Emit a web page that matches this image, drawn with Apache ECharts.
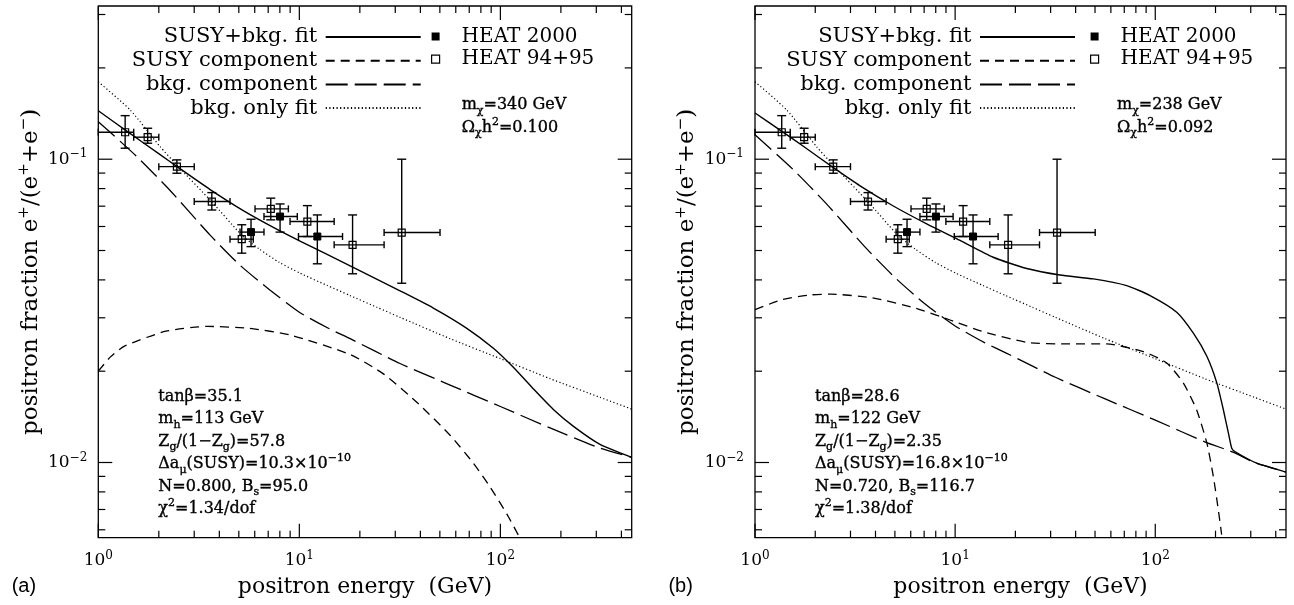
<!DOCTYPE html>
<html>
<head>
<meta charset="utf-8">
<script src="https://cdn.jsdelivr.net/npm/echarts@6/dist/echarts.min.js"></script>
<style>html,body{margin:0;padding:0;background:#fff}#c{width:1294px;height:605px}</style>
</head>
<body>
<div id="c"></div>
<script>
// ---------- tick values ----------
const energyTickMajor = [1, 10, 100];
const energyTickMinor = [2, 3, 4, 5, 6, 7, 8, 9, 20, 30, 40, 50, 60, 70, 80, 90, 200, 300, 400];
const fractionTickMajor = [0.01, 0.1];
const fractionTickMinor = [0.006, 0.007, 0.008, 0.009, 0.02, 0.03, 0.04, 0.05, 0.06, 0.07, 0.08, 0.09, 0.2, 0.3];

// ---------- HEAT data ----------
const heat9495Energy     = [1.36, 1.76, 2.46, 3.67, 5.17, 7.21, 10.96, 18.4, 32.3];
const heat9495EnergyLow  = [1.0, 1.5, 2.0, 3.0, 4.52, 6.02, 8.99, 14.9, 26.4];
const heat9495EnergyHigh = [1.5, 2.0, 3.0, 4.52, 5.9, 8.82, 14.9, 26.4, 50.1];
const heat9495Fraction   = [0.1227, 0.1182, 0.0945, 0.0725, 0.0545, 0.0686, 0.0623, 0.0522, 0.0573];
const heat9495FracLow    = [0.1087, 0.1129, 0.0899, 0.068, 0.049, 0.0631, 0.0556, 0.0419, 0.039];
const heat9495FracHigh   = [0.1392, 0.1265, 0.0995, 0.0776, 0.0608, 0.0744, 0.0703, 0.0655, 0.1];

const heat2000Energy     = [5.75, 8.02, 12.29];
const heat2000EnergyLow  = [5.07, 6.67, 9.9];
const heat2000EnergyHigh = [6.67, 9.77, 16.4];
const heat2000Fraction   = [0.0575, 0.0647, 0.0556];
const heat2000FracLow    = [0.0515, 0.0575, 0.0452];
const heat2000FracHigh   = [0.0634, 0.0712, 0.0655];

// ---------- curves, panel (a) ----------
const fitA_E = [1, 1.38, 2.03, 2.455, 3.6, 5.26, 7.71, 10.08, 17.9, 31.7, 46.4, 68.1, 92.3, 116, 146, 183.5, 231, 313, 450];
const fitA_F = [0.1445, 0.124, 0.1035, 0.0947, 0.0794, 0.0677, 0.0588, 0.0537, 0.0445, 0.0368, 0.0323, 0.0277, 0.0238, 0.0206, 0.01748, 0.01495, 0.01315, 0.01147, 0.0104];
const susyA_E = [1, 1.15, 1.35, 2.17, 3.5, 5.62, 9.05, 17.9, 26.2, 38.4, 56.2, 73.5, 88.9, 107.6, 124.5];
const susyA_F = [0.020, 0.0223, 0.0242, 0.0271, 0.0281, 0.0277, 0.0263, 0.0227, 0.0196, 0.0158, 0.0123, 0.00994, 0.0083, 0.00677, 0.00567];
const bkgA_E = [1, 1.55, 2.27, 3.6, 5.07, 7.08, 10, 14.1, 17.9, 31.7, 56.2, 100, 176.6, 313, 450];
const bkgA_F = [0.133, 0.1022, 0.079, 0.0562, 0.0447, 0.0372, 0.0313, 0.0276, 0.0256, 0.0212, 0.0180, 0.0153, 0.0130, 0.01115, 0.0104];

// ---------- background-only fit (both panels) ----------
const bkgOnlyE = [1, 1.44, 2.03, 2.455, 3.66, 5.17, 6.31, 7.94, 10.08, 13.7, 17.9, 24.3, 31.7, 56.2, 100, 176.6, 313, 450];
const bkgOnlyF = [0.180, 0.1454, 0.110, 0.0957, 0.0725, 0.0562, 0.0506, 0.0457, 0.0421, 0.0384, 0.0355, 0.0325, 0.0301, 0.0256, 0.0220, 0.0189, 0.0164, 0.0150];

// ---------- curves, panel (b) ----------
const fitB_E = [1, 1.334, 1.744, 2.464, 3.35, 4.91, 7.21, 10.58, 15.5, 22.8, 33.4, 49.1, 72, 94.2, 128, 155, 181, 203, 219, 232, 241, 251, 321, 450];
const fitB_F = [0.142, 0.1247, 0.1103, 0.0938, 0.0817, 0.0701, 0.0612, 0.054, 0.0475, 0.0436, 0.0415, 0.0403, 0.0383, 0.0355, 0.0313, 0.0267, 0.0224, 0.0183, 0.0149, 0.0125, 0.01115, 0.01085, 0.00995, 0.0093];
const susyB_E = [1, 1.36, 1.9, 2.4, 3.86, 6.2, 9.43, 13.8, 22.8, 36.1, 57.1, 87.2, 114, 138, 161, 181, 195, 206.5, 214.6];
const susyB_F = [0.0319, 0.0344, 0.0357, 0.0359, 0.0349, 0.0324, 0.0295, 0.027, 0.0249, 0.0246, 0.0246, 0.0232, 0.0213, 0.0183, 0.0149, 0.0116, 0.009, 0.00699, 0.00578];
const bkgB_E = [1, 1.55, 2.27, 3.6, 5.07, 7.08, 10, 14.1, 17.9, 31.7, 56.2, 100, 176.6, 246, 313, 450];
const bkgB_F = [0.1205, 0.0925, 0.0714, 0.0508, 0.0404, 0.0333, 0.0282, 0.0248, 0.0230, 0.0191, 0.0162, 0.0138, 0.0117, 0.0108, 0.0100, 0.0093];

// ---------- annotation texts ----------
const lineNames = ['SUSY+bkg. fit', 'SUSY component', 'bkg. component', 'bkg. only fit'];
const massTextA = ['m{sb|χ}=340 GeV', 'Ω{sb|χ}h{sp|2}=0.100'];
const massTextB = ['m{sb|χ}=238 GeV', 'Ω{sb|χ}h{sp|2}=0.092'];
const paramTextA = ['tanβ=35.1', 'm{sb|h}=113 GeV', 'Z{sb|g}/(1−Z{sb|g})=57.8', 'Δa{sb|μ}(SUSY)=10.3×10{sp|−10}', 'N=0.800, B{sb|s}=95.0', 'χ{sp|2}=1.34/dof'];
const paramTextB = ['tanβ=28.6', 'm{sb|h}=122 GeV', 'Z{sb|g}/(1−Z{sb|g})=2.35', 'Δa{sb|μ}(SUSY)=16.8×10{sp|−10}', 'N=0.720, B{sb|s}=116.7', 'χ{sp|2}=1.38/dof'];

// ---------- build ----------
const SERIF = 'DejaVu Serif';
const pairs = (E, F) => E.map((e, i) => [e, F[i]]);
const bars = (E, F, El, Eh, Fl, Fh) => E.map((e, i) => [e, F[i], El[i], Eh[i], Fl[i], Fh[i]]);
const isMajor = v => Math.abs(Math.log10(v) - Math.round(Math.log10(v))) < 1e-9;

function lineSeries(name, data, idx, dash, width) {
  return {
    type: 'line', name, data, xAxisIndex: idx, yAxisIndex: idx,
    symbol: 'none', showSymbol: false, smooth: 0.2,
    clip: true, silent: true, animation: false, z: 3,
    lineStyle: { color: '#000', width, type: dash, join: 'round' },
    itemStyle: { color: '#000' }
  };
}

function seg(x1, y1, x2, y2, w) {
  return { type: 'line', shape: { x1, y1, x2, y2 }, style: { stroke: '#000', lineWidth: w } };
}

function heatSeries(name, rows, idx, filled) {
  return {
    type: 'custom', name, data: rows, xAxisIndex: idx, yAxisIndex: idx,
    silent: true, animation: false, z: 5, itemStyle: { color: '#000' },
    encode: { x: [0, 2, 3], y: [1, 4, 5] },
    renderItem: function (params, api) {
      const e = api.value(0), f = api.value(1);
      const c = api.coord([e, f]);
      const l = api.coord([api.value(2), f]);
      const r = api.coord([api.value(3), f]);
      const t = api.coord([e, api.value(5)]);
      const b = api.coord([e, api.value(4)]);
      const capH = 3.5, capW = 4.5, h = 3.5, w = 1.4;
      return {
        type: 'group', children: [
          seg(l[0], c[1], r[0], c[1], w),
          seg(l[0], c[1] - capH, l[0], c[1] + capH, w),
          seg(r[0], c[1] - capH, r[0], c[1] + capH, w),
          seg(c[0], t[1], c[0], b[1], w),
          seg(c[0] - capW, t[1], c[0] + capW, t[1], w),
          seg(c[0] - capW, b[1], c[0] + capW, b[1], w),
          {
            type: 'rect', shape: { x: c[0] - h, y: c[1] - h, width: 2 * h, height: 2 * h },
            style: filled ? { fill: '#000', stroke: '#000', lineWidth: 1 } : { fill: 'none', stroke: '#000', lineWidth: 1.2 }
          }
        ]
      };
    }
  };
}

function tickSeriesX(idx) {
  return {
    type: 'custom', xAxisIndex: idx, yAxisIndex: idx, silent: true, animation: false, z: 6,
    data: energyTickMajor.concat(energyTickMinor).map(v => [v, 0.05]),
    renderItem: function (params, api) {
      const v = api.value(0);
      const p = api.coord([v, 0.05]);
      const cs = params.coordSys;
      const len = isMajor(v) ? 14 : 7;
      return { type: 'group', children: [
        seg(p[0], cs.y + cs.height, p[0], cs.y + cs.height - len, 1.2),
        seg(p[0], cs.y, p[0], cs.y + len, 1.2)
      ] };
    }
  };
}

function tickSeriesY(idx) {
  return {
    type: 'custom', xAxisIndex: idx, yAxisIndex: idx, silent: true, animation: false, z: 6,
    data: fractionTickMajor.concat(fractionTickMinor).map(v => [1.5, v]),
    renderItem: function (params, api) {
      const v = api.value(1);
      const p = api.coord([1.5, v]);
      const cs = params.coordSys;
      const len = isMajor(v) ? 14 : 7;
      return { type: 'group', children: [
        seg(cs.x, p[1], cs.x + len, p[1], 1.2),
        seg(cs.x + cs.width, p[1], cs.x + cs.width - len, p[1], 1.2)
      ] };
    }
  };
}

function powLabel(v) {
  const L = Math.log10(v);
  const k = Math.round(L);
  if (Math.abs(L - k) > 1e-6) return '';
  return '{b|10}{s|' + (k < 0 ? '−' + (-k) : String(k)) + '}';
}

const labelRich = {
  b: { fontFamily: SERIF, fontSize: 17, color: '#000', lineHeight: 22 },
  s: { fontFamily: SERIF, fontSize: 12, color: '#000', lineHeight: 12, verticalAlign: 'top' }
};

function xAxisDef(i) {
  return {
    type: 'log', logBase: 10, gridIndex: i, min: 1, max: 450,
    axisLine: { show: false }, axisTick: { show: false }, splitLine: { show: false }, minorTick: { show: false },
    axisLabel: { formatter: powLabel, margin: 12, rich: labelRich, showMinLabel: true, showMaxLabel: true },
    name: 'positron energy  (GeV)', nameLocation: 'middle', nameGap: 39,
    nameTextStyle: { fontFamily: SERIF, fontSize: 22, color: '#000' }
  };
}
function yAxisDef(i) {
  return {
    type: 'log', logBase: 10, gridIndex: i, min: 0.00565, max: 0.32,
    axisLine: { show: false }, axisTick: { show: false }, splitLine: { show: false }, minorTick: { show: false },
    axisLabel: { formatter: powLabel, margin: 11, rich: labelRich },
    name: 'positron fraction e{s|+}/(e{s|+}+e{s|−})', nameLocation: 'middle', nameGap: 54,
    nameTextStyle: {
      fontFamily: SERIF, fontSize: 23, color: '#000', lineHeight: 27,
      rich: { s: { fontFamily: SERIF, fontSize: 15, color: '#000', lineHeight: 15, verticalAlign: 'top' } }
    }
  };
}

const hiddenSymbol = { color: 'rgba(0,0,0,0)', borderColor: 'rgba(0,0,0,0)', borderWidth: 0 };

function lineLegend(right) {
  return {
    orient: 'vertical', align: 'right', right, top: 26.5, padding: 0,
    itemWidth: 95, itemHeight: 12, itemGap: 2.7, selectedMode: false,
    itemStyle: hiddenSymbol,
    formatter: n => '{t|' + n + '}{g|}',
    textStyle: {
      fontFamily: SERIF, fontSize: 21, color: '#000', lineHeight: 20,
      rich: { t: { fontFamily: SERIF, fontSize: 21, color: '#000', lineHeight: 20 }, g: { width: 3.5 } }
    },
    data: lineNames
  };
}
function heatLegend(left) {
  return {
    orient: 'vertical', align: 'left', left, top: 26.5, padding: 0,
    itemWidth: 8, itemHeight: 8, itemGap: 2.7, selectedMode: false,
    formatter: n => '{g|}{t|' + n + '}',
    textStyle: {
      fontFamily: SERIF, fontSize: 20, color: '#000', lineHeight: 20,
      rich: { t: { fontFamily: SERIF, fontSize: 20, color: '#000', lineHeight: 20 }, g: { width: 17 } }
    },
    data: [
      { name: 'HEAT 2000', icon: 'rect', itemStyle: { color: '#000' } },
      { name: 'HEAT 94+95', icon: 'rect', itemStyle: { color: 'rgba(0,0,0,0)', borderColor: '#000', borderWidth: 1.2 } }
    ]
  };
}

const textRich = {
  sb: { fontFamily: SERIF, fontSize: 11, color: '#000', lineHeight: 11, verticalAlign: 'bottom' },
  sp: { fontFamily: SERIF, fontSize: 11, color: '#000', lineHeight: 11, verticalAlign: 'top' }
};
function textBlock(lines, x, y) {
  return {
    type: 'text', x, y, silent: true,
    style: {
      text: lines.join('\n'), fontFamily: SERIF, fontSize: 16, lineHeight: 22.5, fill: '#000',
      stroke: '#000', lineWidth: 0.35, verticalAlign: 'top', align: 'left', rich: textRich
    }
  };
}

const heat2000Rows = bars(heat2000Energy, heat2000Fraction, heat2000EnergyLow, heat2000EnergyHigh, heat2000FracLow, heat2000FracHigh);
const heat9495Rows = bars(heat9495Energy, heat9495Fraction, heat9495EnergyLow, heat9495EnergyHigh, heat9495FracLow, heat9495FracHigh);

const DOT = [1.2, 2.4], SHORT = [9, 6], LONG = [22, 7];

const option = {
  backgroundColor: '#fff',
  animation: false,
  grid: [
    { left: 98.3, top: 6, width: 533.4, height: 531.7, show: true, borderColor: '#000', borderWidth: 1.3, backgroundColor: 'rgba(0,0,0,0)', containLabel: false, outerBoundsMode: 'none' },
    { left: 755, top: 6, width: 531, height: 531.7, show: true, borderColor: '#000', borderWidth: 1.3, backgroundColor: 'rgba(0,0,0,0)', containLabel: false, outerBoundsMode: 'none' }
  ],
  xAxis: [xAxisDef(0), xAxisDef(1)],
  yAxis: [yAxisDef(0), yAxisDef(1)],
  legend: [lineLegend(872.3), heatLegend(431), lineLegend(218), heatLegend(1090)],
  series: [
    lineSeries('SUSY+bkg. fit', pairs(fitA_E, fitA_F), 0, 'solid', 1.4),
    lineSeries('SUSY component', pairs(susyA_E, susyA_F), 0, SHORT, 1.3),
    lineSeries('bkg. component', pairs(bkgA_E, bkgA_F), 0, LONG, 1.3),
    lineSeries('bkg. only fit', pairs(bkgOnlyE, bkgOnlyF), 0, DOT, 1.2),
    heatSeries('HEAT 94+95', heat9495Rows, 0, false),
    heatSeries('HEAT 2000', heat2000Rows, 0, true),
    tickSeriesX(0), tickSeriesY(0),
    lineSeries('SUSY+bkg. fit', pairs(fitB_E, fitB_F), 1, 'solid', 1.4),
    lineSeries('SUSY component', pairs(susyB_E, susyB_F), 1, SHORT, 1.3),
    lineSeries('bkg. component', pairs(bkgB_E, bkgB_F), 1, LONG, 1.3),
    lineSeries('bkg. only fit', pairs(bkgOnlyE, bkgOnlyF), 1, DOT, 1.2),
    heatSeries('HEAT 94+95', heat9495Rows, 1, false),
    heatSeries('HEAT 2000', heat2000Rows, 1, true),
    tickSeriesX(1), tickSeriesY(1)
  ],
  graphic: { elements: [
    textBlock(massTextA, 461.7, 94),
    textBlock(massTextB, 1117, 94),
    textBlock(paramTextA, 158.3, 385.3),
    textBlock(paramTextB, 815, 385.3),
    { type: 'text', x: 11.7, y: 586, silent: true, style: { text: '(a)', fontFamily: 'Liberation Sans', fontSize: 20, fill: '#000', verticalAlign: 'middle' } },
    { type: 'text', x: 668.4, y: 586, silent: true, style: { text: '(b)', fontFamily: 'Liberation Sans', fontSize: 20, fill: '#000', verticalAlign: 'middle' } }
  ] }
};

const chart = echarts.init(document.getElementById('c'), null, { renderer: 'canvas' });
chart.setOption(option);
</script>
</body>
</html>
